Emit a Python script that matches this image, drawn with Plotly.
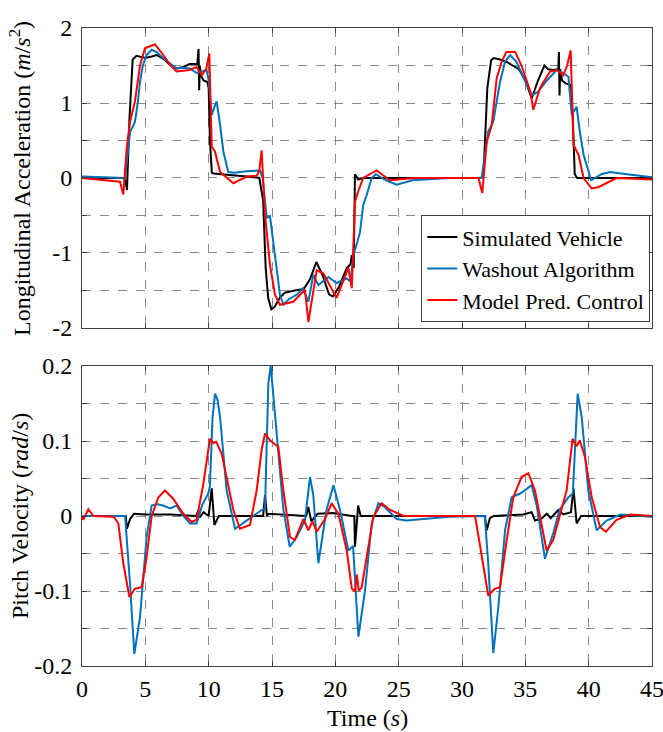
import plotly.graph_objects as go

# ---------------- Data ----------------
# Top panel: longitudinal acceleration (m/s^2)
sim_acc_t = [0, 3.3, 3.45, 3.55, 3.75, 4.0, 4.3, 4.6, 5.0, 5.5, 5.9, 6.5, 7.0, 7.5, 8.0, 8.5, 8.8, 9.1, 9.2,
             9.25, 9.3, 9.4, 9.6, 9.9, 10.0, 10.1, 10.25, 10.4, 11, 12, 13, 14.0, 14.3, 14.5, 14.7, 14.95,
             15.2, 15.6, 16.0, 16.8, 17.5, 18.0, 18.5, 19.0, 19.5, 19.8, 20.3, 20.9, 21.2, 21.3, 21.45,
             21.55, 21.8, 22.2, 31.5, 31.7, 32.0, 32.3, 32.5, 33.0, 33.5, 34.0, 34.5, 35.0, 35.5, 36.0,
             36.5, 36.8, 37.2, 37.6, 37.65, 37.7, 37.75, 37.9, 38.2, 38.6, 38.75, 38.9, 39.1, 45]
sim_acc_y = [0, 0, -0.05, -0.16, 0.8, 1.58, 1.63, 1.62, 1.6, 1.62, 1.64, 1.58, 1.5, 1.46, 1.48, 1.52, 1.52,
             1.52, 1.72, 1.17, 1.5, 1.36, 1.3, 1.28, 1.2, 0.5, 0.07, 0.06, 0.05, 0.04, 0.02, 0.0, -0.3,
             -1.2, -1.6, -1.75, -1.72, -1.6, -1.53, -1.5, -1.48, -1.35, -1.12, -1.3, -1.55, -1.58, -1.45,
             -1.2, -1.15, -1.03, -1.2, 0.05, -0.02, 0.0, 0.0, 0.05, 1.2, 1.57, 1.6, 1.58, 1.55, 1.5,
             1.45, 1.3, 1.06, 1.3, 1.5, 1.45, 1.44, 1.45, 1.68, 1.1, 1.45, 1.3, 1.26, 1.24, 0.8, 0.05,
             0.0, 0.0]

wash_acc_t = [0, 3.4, 3.6, 3.8, 4.0, 4.18, 4.4, 4.58, 4.8, 5.1, 5.5, 5.9, 6.4, 7.0, 7.47, 8.0, 8.5, 9.05,
              9.4, 9.84, 10.0, 10.24, 10.45, 10.63, 10.9, 11.16, 11.55, 12, 13, 14.05, 14.26, 14.58, 14.84,
              15.2, 15.63, 15.9, 16.3, 17.0, 17.45, 17.87, 18.26, 18.66, 19.45, 20.1, 20.9, 21.2, 21.42,
              21.74, 21.95, 22.2, 22.45, 22.87, 23.2, 24.0, 24.84, 26.1, 29, 31.55, 31.8, 32.07, 32.47,
              33.0, 33.4, 33.8, 34.3, 35.1, 35.5, 36.0, 36.7, 37.47, 38.0, 38.4, 38.66, 39.05, 39.3, 39.6,
              40.2, 41.0, 41.7, 43, 45]
wash_acc_y = [0.02, 0.0, 0.3, 0.62, 0.68, 0.75, 1.0, 1.28, 1.5, 1.64, 1.71, 1.68, 1.6, 1.52, 1.46, 1.47,
              1.46, 1.4, 1.42, 1.44, 1.3, 0.84, 0.95, 1.02, 0.71, 0.35, 0.08, 0.07, 0.09, 0.1, 0.0, -0.53,
              -0.51, -1.0, -1.56, -1.69, -1.62, -1.55, -1.47, -1.65, -1.29, -1.43, -1.32, -1.4, -1.34,
              -1.38, -1.03, -0.85, -0.72, -0.36, -0.24, 0.0, 0.05, -0.03, -0.09, -0.03, 0.0, 0.0, 0.32,
              0.62, 0.75, 1.28, 1.55, 1.64, 1.55, 1.24, 1.1, 1.15, 1.3, 1.44, 1.4, 1.35, 0.84, 0.95, 0.62,
              0.31, -0.03, 0.05, 0.08, 0.05, 0.01]

mpc_acc_t = [0, 3.0, 3.26, 3.53, 3.79, 4.18, 4.58, 4.97, 5.4, 5.76, 6.42, 7.0, 7.47, 8.5, 9.05, 9.45, 9.8,
             10.05, 10.24, 10.5, 10.9, 11.95, 13, 13.8, 14.0, 14.18, 14.45, 14.84, 15.24, 15.63, 16.68,
             17.6, 17.87, 18.26, 18.53, 19.05, 20.1, 21.03, 21.3, 21.55, 21.8, 22.2, 23.26, 24.3, 26.3,
             31.3, 31.6, 31.95, 32.34, 32.74, 33.13, 33.5, 34.2, 34.7, 35.4, 35.63, 36.16, 36.95, 37.5,
             38.0, 38.3, 38.58, 38.8, 39.2, 39.6, 40.24, 40.8, 42.2, 45]
mpc_acc_y = [0, -0.05, -0.22, 0.4, 0.75, 1.02, 1.5, 1.73, 1.76, 1.78, 1.64, 1.5, 1.42, 1.44, 1.48, 1.37,
             1.45, 1.66, 0.42, 0.35, 0.08, -0.07, 0.02, 0.03, 0.1, 0.37, -0.49, -1.16, -1.56, -1.69, -1.65,
             -1.49, -1.92, -1.52, -1.23, -1.27, -1.6, -1.2, -1.47, -0.32, -0.18, 0.0, 0.1, -0.03, 0.0,
             0.0, -0.2, 0.48, 0.7, 1.33, 1.55, 1.68, 1.68, 1.5, 1.15, 0.91, 1.2, 1.42, 1.44, 1.37, 1.5,
             1.7, 0.44, 0.31, 0.0, -0.14, -0.12, 0.0, -0.02]

# Bottom panel: pitch velocity (rad/s)
sim_pitch_t = [0, 3.45, 3.55, 3.8, 4.1, 5, 7, 9.0, 9.19, 9.3, 9.6, 10.0, 10.24, 10.45, 10.8, 14.3, 14.45,
               14.6, 14.7, 17.7, 17.87, 18.1, 18.6, 19.8, 21.3, 21.5, 21.55, 21.65, 21.8, 22.0, 31.8,
               31.95, 32.2, 32.5, 34.84, 35.5, 35.76, 36.3, 36.7, 37.0, 37.6, 38.0, 38.6, 38.8, 39.05,
               39.4, 45]
sim_pitch_y = [0, 0, -0.017, -0.004, 0.003, 0.002, 0.002, 0.0, 0.008, -0.002, 0.005, 0.0, 0.037, -0.012,
               0.0, 0.0, 0.028, 0.0, 0.003, 0.0, 0.012, -0.007, 0.003, 0.004, 0.0, 0.0, -0.041, -0.02,
               0.014, 0.0, 0.0, -0.019, -0.003, 0.0, 0.002, 0.005, -0.006, -0.003, 0.003, -0.003, 0.008,
               0.002, 0.005, 0.037, -0.01, 0.0, 0.0]

wash_pitch_t = [0, 3.4, 3.79, 4.13, 4.58, 5.1, 5.5, 5.9, 6.4, 6.95, 7.47, 8.0, 8.53, 9.05, 9.5, 9.97, 10.1,
                10.3, 10.5, 10.7, 10.9, 11.15, 11.42, 12.08, 13, 14.18, 14.45, 14.6, 14.71, 14.9, 15.37,
                15.9, 16.4, 16.95, 17.6, 18.0, 18.26, 18.66, 19.3, 19.85, 20.37, 21.03, 21.4, 21.82,
                22.34, 22.87, 23.4, 23.9, 24.84, 25.6, 29, 31.8, 32.07, 32.47, 32.87, 33.4, 33.92, 34.6,
                35.5, 35.9, 36.55, 37.2, 37.7, 38.4, 38.75, 39.13, 39.45, 39.97, 40.63, 41.42, 42.5, 45]
wash_pitch_y = [0, 0, -0.09, -0.184, -0.135, -0.028, 0.014, 0.016, 0.014, 0.01, 0.014, 0.0, -0.01, -0.01,
                0.015, 0.03, 0.04, 0.13, 0.163, 0.155, 0.132, 0.08, 0.034, -0.017, -0.006, 0.008, 0.01,
                0.1, 0.177, 0.2, 0.11, 0.008, -0.041, -0.028, -0.006, 0.052, 0.028, -0.063, 0.008, 0.041,
                0.008, -0.046, -0.04, -0.161, -0.1, -0.01, 0.017, 0.012, -0.004, -0.006, -0.001, 0.0,
                -0.063, -0.183, -0.121, -0.019, 0.025, 0.03, 0.041, 0.014, -0.057, -0.023, 0.008, 0.025,
                0.03, 0.163, 0.132, 0.034, -0.019, -0.006, 0.002, -0.001]

mpc_pitch_t = [0, 0.1, 0.5, 0.9, 2.5, 2.87, 3.26, 3.74, 4.18, 4.71, 5.1, 5.5, 6.03, 6.55, 7.2, 8.0, 8.66,
               9.05, 9.58, 10.1, 10.37, 10.6, 11.03, 11.42, 11.95, 12.47, 13.26, 13.79, 14.18, 14.45,
               14.84, 15.5, 15.9, 16.42, 16.8, 17.47, 17.87, 18.2, 18.53, 19.18, 19.71, 20.24, 20.9, 21.3,
               21.55, 21.7, 21.85, 22.08, 22.6, 23.0, 23.66, 24.32, 25.4, 31.03, 31.4, 32.07, 32.6, 33.0,
               33.53, 34.05, 34.7, 35.24, 35.76, 36.68, 37.2, 37.7, 38.26, 38.73, 39.05, 39.3, 39.7,
               40.24, 40.9, 41.37, 42.2, 43.3, 45]
mpc_pitch_y = [0, -0.005, 0.009, 0.0, -0.001, -0.01, -0.063, -0.108, -0.097, -0.095, -0.055, 0.0, 0.025,
               0.034, 0.023, 0.003, -0.008, -0.005, 0.043, 0.103, 0.097, 0.099, 0.083, 0.052, 0.008,
               -0.017, -0.012, 0.034, 0.088, 0.11, 0.101, 0.092, 0.034, -0.028, -0.032, -0.004, -0.019,
               -0.007, -0.021, -0.004, 0.017, 0.003, -0.046, -0.097, -0.1, -0.078, -0.1, -0.095, -0.041,
               -0.001, 0.017, 0.008, 0.0, 0.0, -0.037, -0.106, -0.097, -0.095, -0.032, 0.025, 0.052,
               0.057, 0.034, -0.046, -0.032, 0.0, 0.034, 0.103, 0.093, 0.101, 0.079, 0.025, -0.015,
               -0.021, -0.005, 0.002, 0.0]

series_names = ["Simulated Vehicle", "Washout Algorithm", "Model Pred. Control"]
series_colors = ["#000000", "#0072BD", "#FF0000"]

x_ticks = [0, 5, 10, 15, 20, 25, 30, 35, 40, 45]
acc_ticks = [-2, -1, 0, 1, 2]
acc_labels = ["-2", "-1", "0", "1", "2"]
pitch_ticks = [-0.2, -0.1, 0, 0.1, 0.2]
pitch_labels = ["-0.2", "-0.1", "0", "0.1", "0.2"]

# ---------------- Figure ----------------
FONT = "Liberation Serif"
GRID = "#8a8a8a"
AX = "#404040"
fig = go.Figure()

top = [(sim_acc_t, sim_acc_y), (wash_acc_t, wash_acc_y), (mpc_acc_t, mpc_acc_y)]
bot = [(sim_pitch_t, sim_pitch_y), (wash_pitch_t, wash_pitch_y), (mpc_pitch_t, mpc_pitch_y)]
for i, (t, y) in enumerate(top):
    fig.add_trace(go.Scatter(x=t, y=y, mode="lines", name=series_names[i],
                             line=dict(color=series_colors[i], width=2),
                             xaxis="x", yaxis="y", showlegend=True))
for i, (t, y) in enumerate(bot):
    fig.add_trace(go.Scatter(x=t, y=y, mode="lines", name=series_names[i],
                             line=dict(color=series_colors[i], width=2),
                             xaxis="x2", yaxis="y2", showlegend=False))

axis_common = dict(showline=True, linecolor=AX, linewidth=1, mirror="ticks",
                   ticks="inside", ticklen=5, tickcolor=AX, automargin=False,
                   ticklabeloverflow="allow",
                   showgrid=True, gridcolor=GRID, griddash="dash", gridwidth=1,
                   zeroline=False, tickfont=dict(family=FONT, size=24, color="black"))

def minor(tick0, dtick):
    return dict(tick0=tick0, dtick=dtick, ticks="inside", ticklen=5, tickcolor=AX,
                showgrid=True, gridcolor=GRID, griddash="dash", gridwidth=1)

fig.update_layout(
    width=663, height=732,
    margin=dict(l=82, r=11, t=28, b=66, autoexpand=False),
    paper_bgcolor="white", plot_bgcolor="white",
    font=dict(family=FONT, size=24, color="black"),
    xaxis=dict(domain=[0, 1], anchor="y", range=[0, 45], tickvals=x_ticks,
               showticklabels=False, **axis_common),
    yaxis=dict(domain=[0.5298, 1], anchor="x", range=[-2, 2], tickvals=acc_ticks,
               ticktext=acc_labels, ticklabelstandoff=4, minor=minor(-2, 0.5), **axis_common),
    xaxis2=dict(domain=[0, 1], anchor="y2", range=[0, 45], tickvals=x_ticks,
                ticklabelstandoff=1, **axis_common),
    yaxis2=dict(domain=[0, 0.4702], anchor="x2", range=[-0.2, 0.2], tickvals=pitch_ticks,
                ticktext=pitch_labels, ticklabelstandoff=4, minor=minor(-0.2, 0.05),
                **axis_common),
    legend=dict(x=0.997, xanchor="right", y=0.539, yanchor="bottom",
                bgcolor="white", bordercolor=AX, borderwidth=1,
                font=dict(family=FONT, size=22, color="black"),
                tracegroupgap=0, itemwidth=30),
    showlegend=True,
)

fig.add_annotation(text="Longitudinal Acceleration (<i>m</i>/<i>s</i><sup>2</sup>)",
                   xref="paper", yref="paper", x=-0.1088, y=0.7649, textangle=-90,
                   showarrow=False, xanchor="center", yanchor="middle",
                   font=dict(family=FONT, size=24, color="black"))
fig.add_annotation(text="Pitch Velocity (<i>rad</i>/<i>s</i>)",
                   xref="paper", yref="paper", x=-0.1088, y=0.2351, textangle=-90,
                   showarrow=False, xanchor="center", yanchor="middle",
                   font=dict(family=FONT, size=24, color="black"))
fig.add_annotation(text="Time (<i>s</i>)",
                   xref="paper", yref="paper", x=0.5, y=-0.0815,
                   showarrow=False, xanchor="center", yanchor="middle",
                   font=dict(family=FONT, size=24, color="black"))

fig.write_html("out.html", config={"displayModeBar": False},
               post_script="document.body.style.margin='0';document.body.style.overflow='hidden';")
